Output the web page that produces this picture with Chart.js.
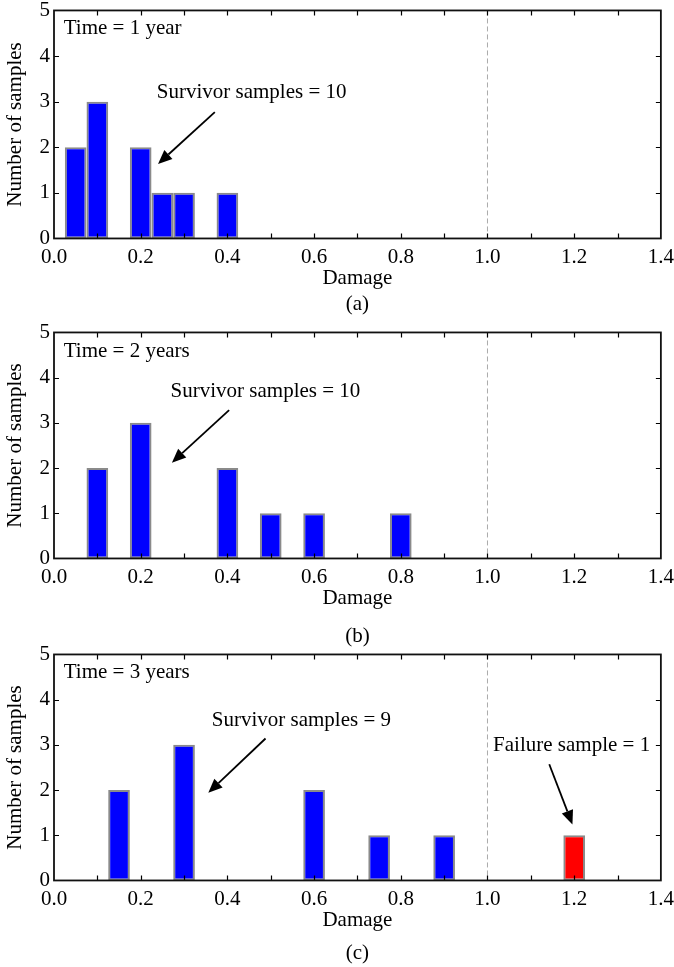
<!DOCTYPE html>
<html><head><meta charset="utf-8">
<script src="https://cdn.jsdelivr.net/npm/chart.js@4/dist/chart.umd.min.js"></script>
<style>
html,body{margin:0;padding:0;background:#fff;}
body{width:674px;height:967px;position:relative;overflow:hidden;}
.panel{position:absolute;left:0;width:680px;}
</style></head><body>
<div class="panel" style="top:-3.5px;height:324px"><canvas id="c0"></canvas></div>
<div class="panel" style="top:318.5px;height:332px"><canvas id="c1"></canvas></div>
<div class="panel" style="top:640.5px;height:327px"><canvas id="c2"></canvas></div>
<script>
// ---- data ----
const damage1 = [0.05, 0.10, 0.20, 0.25, 0.30, 0.40];
const count1  = [2, 3, 2, 1, 1, 1];
const damage2 = [0.10, 0.20, 0.40, 0.50, 0.60, 0.80];
const count2  = [2, 3, 2, 1, 1, 1];
const damage3 = [0.15, 0.30, 0.60, 0.75, 0.90, 1.20];
const count3  = [2, 3, 2, 1, 1, 1];
const binWidth = 0.05;
const failureThreshold = 1.0;
const xTickLabels = ['0.0','0.2','0.4','0.6','0.8','1.0','1.2','1.4'];
const yTickLabels = ['0','1','2','3','4','5'];
const panelLabels = ['(a)','(b)','(c)'];
const timeLabels = ['Time = 1 year','Time = 2 years','Time = 3 years'];
const survivorLabels = ['Survivor samples = 10','Survivor samples = 10','Survivor samples = 9'];
const failureLabel = 'Failure sample = 1';

const FONT = '"Liberation Serif", "Times New Roman", serif';
Chart.defaults.font.family = FONT;
Chart.defaults.color = '#000';

// annotation placement (data coordinates) per panel
const notes = [
  { time:{x:0.0224,y:4.60}, texts:[{t:survivorLabels[0],x:0.237,y:3.20}],
    arrows:[{x1:0.371,y1:2.77,x2:0.240,y2:1.635}] },
  { time:{x:0.0224,y:4.57}, texts:[{t:survivorLabels[1],x:0.269,y:3.69}],
    arrows:[{x1:0.404,y1:3.28,x2:0.272,y2:2.12}] },
  { time:{x:0.0224,y:4.59}, texts:[{t:survivorLabels[2],x:0.364,y:3.54},{t:failureLabel,x:1.013,y:2.98}],
    arrows:[{x1:0.488,y1:3.14,x2:0.356,y2:1.94},{x1:1.1425,y1:2.57,x2:1.196,y2:1.24}] }
];

const decor = {
  id:'decor',
  beforeDatasetsDraw(chart){
    const {ctx, chartArea:a, scales:{x}} = chart;
    const px = x.getPixelForValue(failureThreshold);
    ctx.save();
    ctx.strokeStyle = '#aaaaaa'; ctx.lineWidth = 1; ctx.setLineDash([5,3]);
    ctx.beginPath(); ctx.moveTo(px, a.top); ctx.lineTo(px, a.bottom); ctx.stroke();
    ctx.restore();
  },
  afterDatasetsDraw(chart){
    const {ctx, chartArea:a, scales:{x,y}} = chart;
    ctx.save();
    ctx.strokeStyle = '#000'; ctx.lineWidth = 1.2;
    ctx.beginPath();
    for (let i = 1; i < 14; i++) {
      const px = Math.round(x.getPixelForValue(i/10)) + 0.5;
      ctx.moveTo(px, a.bottom); ctx.lineTo(px, a.bottom - 5);
      ctx.moveTo(px, a.top); ctx.lineTo(px, a.top + 5);
    }
    for (let j = 1; j < yTickLabels.length - 1; j++) {
      const py = Math.round(y.getPixelForValue(j)) + 0.5;
      ctx.moveTo(a.left, py); ctx.lineTo(a.left + 5, py);
      ctx.moveTo(a.right, py); ctx.lineTo(a.right - 5, py);
    }
    ctx.stroke();
    ctx.lineWidth = 1.8; ctx.strokeStyle = '#111';
    ctx.strokeRect(a.left, a.top, a.right - a.left, a.bottom - a.top);
    ctx.restore();
  },
  afterDraw(chart){
    const p = chart.options.plugins.decor.panel;
    const n = notes[p];
    const {ctx, scales:{x,y}} = chart;
    ctx.save();
    ctx.font = '21px ' + FONT; ctx.fillStyle = '#000';
    ctx.textAlign = 'left'; ctx.textBaseline = 'middle';
    ctx.fillText(timeLabels[p], x.getPixelForValue(n.time.x), y.getPixelForValue(n.time.y));
    n.texts.forEach(t => ctx.fillText(t.t, x.getPixelForValue(t.x), y.getPixelForValue(t.y)));
    n.arrows.forEach(ar => {
      const x1 = x.getPixelForValue(ar.x1), y1 = y.getPixelForValue(ar.y1);
      const x2 = x.getPixelForValue(ar.x2), y2 = y.getPixelForValue(ar.y2);
      const ang = Math.atan2(y2 - y1, x2 - x1);
      const hl = 14, hw = 6;
      const bx = x2 - hl*Math.cos(ang), by = y2 - hl*Math.sin(ang);
      ctx.strokeStyle = '#000'; ctx.lineWidth = 1.8;
      ctx.beginPath(); ctx.moveTo(x1, y1); ctx.lineTo(bx, by); ctx.stroke();
      ctx.beginPath();
      ctx.moveTo(x2, y2);
      ctx.lineTo(bx + hw*Math.sin(ang), by - hw*Math.cos(ang));
      ctx.lineTo(bx - hw*Math.sin(ang), by + hw*Math.cos(ang));
      ctx.closePath(); ctx.fill();
    });
    ctx.restore();
  }
};

function makeChart(id, damage, counts, panel, labelGap, padBottom){
  return new Chart(document.getElementById(id), {
    type:'bar',
    data:{ datasets:[{
      data: damage.map((d,i) => ({x:d, y:counts[i]})),
      backgroundColor: c => (c.raw && c.raw.x >= failureThreshold) ? '#ff0000' : '#0000ff',
      borderColor:'#8a8a8a', borderWidth:2, borderSkipped:false, inflateAmount:0,
      categoryPercentage:1, barPercentage:1
    }]},
    options:{
      responsive:true, maintainAspectRatio:false, animation:false, devicePixelRatio:1,
      layout:{padding:{top:10, right:14, left:0, bottom:padBottom}},
      scales:{
        x:{ type:'linear', min:0, max:1.4, offset:false,
            grid:{display:false, drawTicks:false, offset:false}, border:{display:false},
            ticks:{ stepSize:binWidth, autoSkip:false, maxRotation:0, minRotation:0, padding:6,
                    font:{size:21, lineHeight:1.2}, color:'#000',
                    callback:(v) => { const k = Math.round(v/binWidth); return k % 4 === 0 ? xTickLabels[k/4] : ''; } },
            title:{display:true, text:'Damage', font:{size:21, lineHeight:0.24}, padding:{top:0,bottom:0}, color:'#000'} },
        y:{ min:0, max:5, grid:{display:false, drawTicks:false}, border:{display:false},
            ticks:{ stepSize:1, padding:4, font:{size:21, lineHeight:0.9}, color:'#000',
                    callback:(v) => yTickLabels[v] },
            title:{display:true, text:'Number of samples', font:{size:21, lineHeight:1.2}, padding:{top:3,bottom:0}, color:'#000'},
            afterFit:(s) => { s.width = 54; } }
      },
      plugins:{
        legend:{display:false}, tooltip:{enabled:false},
        title:{display:true, text:panelLabels[panel], position:'bottom', fullSize:false,
               padding:{top:labelGap,bottom:0}, font:{size:21, weight:'normal', lineHeight:1.2}, color:'#000'},
        decor:{panel}
      }
    },
    plugins:[decor]
  });
}
makeChart('c0', damage1, count1, 0, 11.2, 3.9);
makeChart('c1', damage2, count2, 1, 23.2, 1.9);
makeChart('c2', damage3, count3, 2, 18.2, 1.9);
</script>
</body></html>
